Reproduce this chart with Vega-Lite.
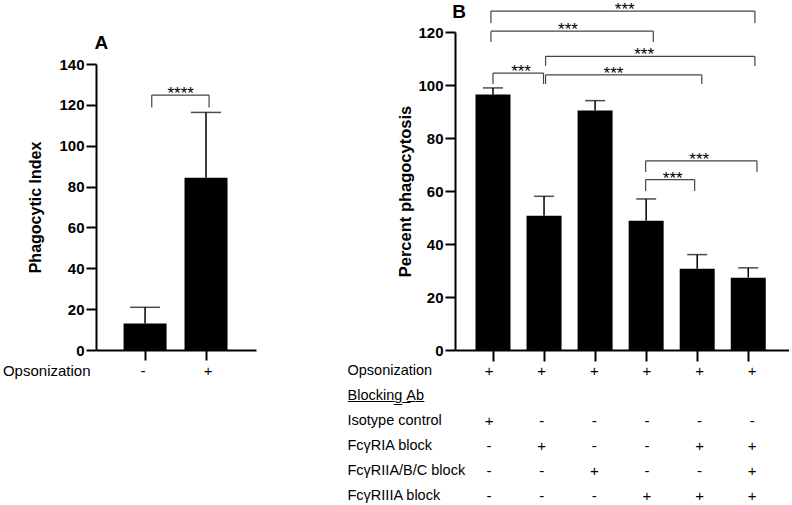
{
  "$schema": "https://vega.github.io/schema/vega-lite/v6.json",
  "padding": {"left": 2, "top": 1, "right": 0, "bottom": 0},
  "bounds": "flush",
  "columns": 2,
  "spacing": {"row": 8.5, "column": 199},
  "config": {
    "font": "Liberation Sans",
    "view": {"stroke": null},
    "axis": {
      "domainColor": "black", "domainWidth": 2, "tickColor": "black", "tickWidth": 2,
      "labelColor": "black", "titleColor": "black", "grid": false,
      "labelFont": "Liberation Sans", "titleFont": "Liberation Sans"
    }
  },
  "datasets": {
    "a": [
      {"g": 1, "mean": 13.0, "upper": 20.9},
      {"g": 2, "mean": 84.3, "upper": 116.3}
    ],
    "b": [
      {"g": 1, "mean": 96.4, "upper": 98.9},
      {"g": 2, "mean": 50.7, "upper": 58.0},
      {"g": 3, "mean": 90.4, "upper": 94.1},
      {"g": 4, "mean": 48.8, "upper": 57.0},
      {"g": 5, "mean": 30.7, "upper": 36.0},
      {"g": 6, "mean": 27.3, "upper": 31.0}
    ],
    "abr": [
      {"from": 1.11, "to": 2.05, "y": 124.8, "yend": 118.7, "sx": 1.585, "label": "****"}
    ],
    "bbr": [
      {"from": 0.96, "to": 6.13, "y": 127.9, "yend": 123.4, "sx": 3.58, "label": "***"},
      {"from": 0.96, "to": 4.14, "y": 120.3, "yend": 116.2, "sx": 2.47, "label": "***"},
      {"from": 2.03, "to": 6.13, "y": 110.8, "yend": 107.2, "sx": 3.96, "label": "***"},
      {"from": 1.0, "to": 1.99, "y": 104.5, "yend": 100.4, "sx": 1.55, "label": "***"},
      {"from": 2.03, "to": 5.09, "y": 103.8, "yend": 100.4, "sx": 3.36, "label": "***"},
      {"from": 3.99, "to": 6.17, "y": 71.4, "yend": 67.2, "sx": 5.04, "label": "***"},
      {"from": 3.99, "to": 4.95, "y": 64.3, "yend": 60.0, "sx": 4.52, "label": "***"}
    ],
    "atab": [
      {"g": 1, "row": "Opsonization", "v": "-"},
      {"g": 2, "row": "Opsonization", "v": "+"}
    ],
    "btab": [
      {"g": 1, "row": "Opsonization", "v": "+"},
      {"g": 2, "row": "Opsonization", "v": "+"},
      {"g": 3, "row": "Opsonization", "v": "+"},
      {"g": 4, "row": "Opsonization", "v": "+"},
      {"g": 5, "row": "Opsonization", "v": "+"},
      {"g": 6, "row": "Opsonization", "v": "+"},
      {"g": 1, "row": "Isotype control", "v": "+"},
      {"g": 2, "row": "Isotype control", "v": "-"},
      {"g": 3, "row": "Isotype control", "v": "-"},
      {"g": 4, "row": "Isotype control", "v": "-"},
      {"g": 5, "row": "Isotype control", "v": "-"},
      {"g": 6, "row": "Isotype control", "v": "-"},
      {"g": 1, "row": "FcγRIA block", "v": "-"},
      {"g": 2, "row": "FcγRIA block", "v": "+"},
      {"g": 3, "row": "FcγRIA block", "v": "-"},
      {"g": 4, "row": "FcγRIA block", "v": "-"},
      {"g": 5, "row": "FcγRIA block", "v": "+"},
      {"g": 6, "row": "FcγRIA block", "v": "+"},
      {"g": 1, "row": "FcγRIIA/B/C block", "v": "-"},
      {"g": 2, "row": "FcγRIIA/B/C block", "v": "-"},
      {"g": 3, "row": "FcγRIIA/B/C block", "v": "+"},
      {"g": 4, "row": "FcγRIIA/B/C block", "v": "-"},
      {"g": 5, "row": "FcγRIIA/B/C block", "v": "-"},
      {"g": 6, "row": "FcγRIIA/B/C block", "v": "+"},
      {"g": 1, "row": "FcγRIIIA block", "v": "-"},
      {"g": 2, "row": "FcγRIIIA block", "v": "-"},
      {"g": 3, "row": "FcγRIIIA block", "v": "-"},
      {"g": 4, "row": "FcγRIIIA block", "v": "+"},
      {"g": 5, "row": "FcγRIIIA block", "v": "+"},
      {"g": 6, "row": "FcγRIIIA block", "v": "+"}
    ]
  },
  "concat": [
    {
      "width": 160, "height": 318,
      "layer": [
        {
          "data": {"name": "a"},
          "mark": {"type": "bar", "size": 43, "color": "black", "orient": "vertical"},
          "encoding": {
            "x": {"field": "g", "type": "quantitative", "scale": {"domain": [0.277, 2.738], "nice": false, "zero": false},
                  "axis": {"values": [1, 2], "labels": false, "title": null, "tickSize": 10}},
            "y": {"field": "mean", "type": "quantitative", "scale": {"domain": [0, 140], "range": [318, 32], "nice": false},
                  "axis": {"values": [0, 10, 20, 30, 40, 50, 60, 70, 80, 90, 100, 110, 120, 130, 140],
                           "labelExpr": "datum.value % 20 === 0 ? datum.label : ''",
                           "tickSize": {"condition": {"test": "datum.value % 20 === 0", "value": 10}, "value": 5},
                           "labelFontSize": 15, "labelFontWeight": "bold", "labelPadding": 2,
                           "title": "Phagocytic Index", "titleFontSize": 16, "titleFontWeight": "bold", "titlePadding": 15}}
          }
        },
        {
          "data": {"name": "a"},
          "mark": {"type": "rule", "strokeWidth": 1.5, "color": "black"},
          "encoding": {
            "x": {"field": "g", "type": "quantitative"},
            "y": {"field": "mean", "type": "quantitative"},
            "y2": {"field": "upper"}
          }
        },
        {
          "data": {"name": "a"},
          "mark": {"type": "tick", "orient": "horizontal", "size": 30, "thickness": 1.5, "color": "black"},
          "encoding": {
            "x": {"field": "g", "type": "quantitative"},
            "y": {"field": "upper", "type": "quantitative"}
          }
        },
        {
          "data": {"name": "abr"},
          "mark": {"type": "rule", "strokeWidth": 1.2, "color": "#444"},
          "encoding": {
            "x": {"field": "from", "type": "quantitative"},
            "x2": {"field": "to"},
            "y": {"field": "y", "type": "quantitative"}
          }
        },
        {
          "data": {"name": "abr"},
          "transform": [{"fold": ["from", "to"], "as": ["end", "xx"]}],
          "mark": {"type": "rule", "strokeWidth": 1.2, "color": "#444"},
          "encoding": {
            "x": {"field": "xx", "type": "quantitative"},
            "y": {"field": "y", "type": "quantitative"},
            "y2": {"field": "yend"}
          }
        },
        {
          "data": {"name": "abr"},
          "mark": {"type": "text", "fontSize": 17, "baseline": "alphabetic", "dy": 4, "color": "black"},
          "encoding": {
            "x": {"field": "sx", "type": "quantitative"},
            "y": {"field": "y", "type": "quantitative"},
            "text": {"field": "label"}
          }
        },
        {
          "data": {"values": [{"panel": "A"}]},
          "mark": {"type": "text", "fontSize": 19, "fontWeight": "bold", "align": "left", "baseline": "alphabetic", "color": "black"},
          "encoding": {
            "x": {"datum": 0.169, "type": "quantitative"},
            "y": {"datum": 147.3, "type": "quantitative"},
            "text": {"field": "panel"}
          }
        }
      ]
    },
    {
      "width": 334, "height": 318,
      "layer": [
        {
          "data": {"name": "b"},
          "mark": {"type": "bar", "size": 35, "color": "black", "orient": "vertical"},
          "encoding": {
            "x": {"field": "g", "type": "quantitative", "scale": {"domain": [0.354, 6.70], "nice": false, "zero": false},
                  "axis": {"values": [1, 2, 3, 4, 5, 6], "labels": false, "title": null, "tickSize": 11}},
            "y": {"field": "mean", "type": "quantitative", "scale": {"domain": [0, 120], "nice": false},
                  "axis": {"values": [0, 10, 20, 30, 40, 50, 60, 70, 80, 90, 100, 110, 120],
                           "labelExpr": "datum.value % 20 === 0 ? datum.label : ''",
                           "tickSize": {"condition": {"test": "datum.value % 20 === 0", "value": 10}, "value": 5},
                           "labelFontSize": 15, "labelFontWeight": "bold", "labelPadding": 2,
                           "title": "Percent phagocytosis", "titleFontSize": 16.5, "titleFontWeight": "bold", "titlePadding": 4}}
          }
        },
        {
          "data": {"name": "b"},
          "mark": {"type": "rule", "strokeWidth": 1.5, "color": "black"},
          "encoding": {
            "x": {"field": "g", "type": "quantitative"},
            "y": {"field": "mean", "type": "quantitative"},
            "y2": {"field": "upper"}
          }
        },
        {
          "data": {"name": "b"},
          "mark": {"type": "tick", "orient": "horizontal", "size": 20, "thickness": 1.5, "color": "black"},
          "encoding": {
            "x": {"field": "g", "type": "quantitative"},
            "y": {"field": "upper", "type": "quantitative"}
          }
        },
        {
          "data": {"name": "bbr"},
          "mark": {"type": "rule", "strokeWidth": 1.2, "color": "#444"},
          "encoding": {
            "x": {"field": "from", "type": "quantitative"},
            "x2": {"field": "to"},
            "y": {"field": "y", "type": "quantitative"}
          }
        },
        {
          "data": {"name": "bbr"},
          "transform": [{"fold": ["from", "to"], "as": ["end", "xx"]}],
          "mark": {"type": "rule", "strokeWidth": 1.2, "color": "#444"},
          "encoding": {
            "x": {"field": "xx", "type": "quantitative"},
            "y": {"field": "y", "type": "quantitative"},
            "y2": {"field": "yend"}
          }
        },
        {
          "data": {"name": "bbr"},
          "mark": {"type": "text", "fontSize": 17, "baseline": "alphabetic", "dy": 4, "color": "black"},
          "encoding": {
            "x": {"field": "sx", "type": "quantitative"},
            "y": {"field": "y", "type": "quantitative"},
            "text": {"field": "label"}
          }
        },
        {
          "data": {"values": [{"panel": "B"}]},
          "mark": {"type": "text", "fontSize": 19, "fontWeight": "bold", "align": "left", "baseline": "alphabetic", "color": "black"},
          "encoding": {
            "x": {"datum": 0.202, "type": "quantitative"},
            "y": {"datum": 125.3, "type": "quantitative"},
            "text": {"field": "panel"}
          }
        }
      ]
    },
    {
      "width": 160, "height": 25,
      "data": {"name": "atab"},
      "mark": {"type": "text", "fontSize": 15, "color": "black"},
      "encoding": {
        "x": {"field": "g", "type": "quantitative", "scale": {"domain": [0.277, 2.738], "nice": false, "zero": false}, "axis": null},
        "y": {"field": "row", "type": "nominal", "scale": {"type": "band", "domain": ["Opsonization"], "paddingInner": 0, "paddingOuter": 0},
              "axis": {"title": null, "domain": false, "ticks": false, "tickSize": 0, "labelPadding": 6, "labelFontSize": 15, "labelFontWeight": "normal"}},
        "text": {"field": "v"}
      }
    },
    {
      "width": 334, "height": 150,
      "data": {"name": "btab"},
      "mark": {"type": "text", "fontSize": 15, "color": "black"},
      "encoding": {
        "x": {"field": "g", "type": "quantitative", "scale": {"domain": [0.354, 6.70], "nice": false, "zero": false}, "axis": null},
        "y": {"field": "row", "type": "nominal",
              "scale": {"type": "band", "domain": ["Opsonization", "Blocking Ab", "Isotype control", "FcγRIA block", "FcγRIIA/B/C block", "FcγRIIIA block"], "paddingInner": 0, "paddingOuter": 0},
              "axis": {"title": null, "domain": false, "ticks": false, "tickSize": 0, "labelPadding": 0, "labelAlign": "left", "offset": 108, "labelFontSize": 14.5, "labelFontWeight": "normal",
                       "labelExpr": "datum.label === 'Blocking Ab' ? 'B̲l̲o̲c̲k̲i̲n̲g̲ ̲A̲b̲' : datum.label"}},
        "text": {"field": "v"}
      }
    }
  ]
}
